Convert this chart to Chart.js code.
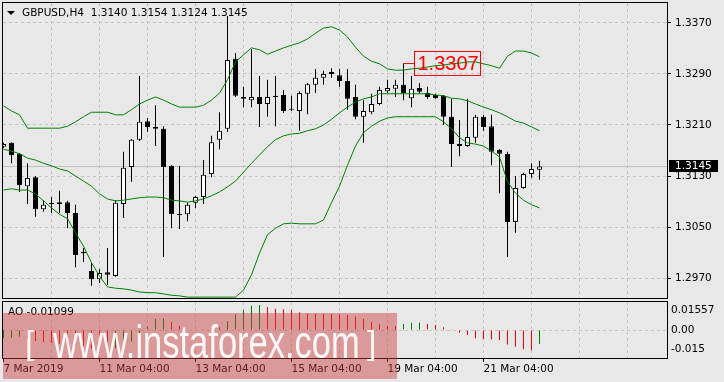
<!DOCTYPE html>
<html>
<head>
<meta charset="utf-8">
<script src="https://cdn.jsdelivr.net/npm/chart.js@4.4.1/dist/chart.umd.min.js"></script>
<style>
  html, body { margin: 0; padding: 0; background: #e8e8e8; }
  #wrap { position: relative; width: 724px; height: 382px; overflow: hidden; font-family: 'DejaVu Sans', sans-serif; color: #000; }
  #main { position: absolute; left: 0; top: 0; }
  #ao { position: absolute; left: 0; top: 300px; }
  .tri { position: absolute; left: 7px; top: 11px; width: 0; height: 0;
         border-left: 4px solid transparent; border-right: 4px solid transparent; border-top: 4px solid #000; }
  .title { position: absolute; left: 22px; top: 6px; font-size: 10.5px; white-space: pre; }
  .aolabel { position: absolute; left: 8px; top: 305px; font-size: 10.5px; white-space: pre; }
  .wm { position: absolute; left: 3px; top: 313px; width: 394px; height: 66px;
        background: rgba(205, 60, 60, 0.45); overflow: hidden; font-family: 'Liberation Sans', sans-serif; color: rgba(255,255,255,0.92); }
  .wm .txt { position: absolute; left: 50px; top: 6px; font-size: 46px; line-height: 46px; white-space: pre;
             transform: scaleX(0.75); transform-origin: left top; }
  .wm .br { position: absolute; font-size: 34px; line-height: 34px; font-weight: 300; }
</style>
</head>
<body>
<div id="wrap">
  <canvas id="main" width="724" height="300"></canvas>
  <canvas id="ao" width="724" height="82"></canvas>
  <div class="tri"></div>
  <div class="title" id="title"></div>
  <div class="aolabel" id="aolabel"></div>
  <div class="wm">
    <span class="br" style="left:22px; top:12px;">[</span>
    <span class="txt">www.instaforex.com</span>
    <span class="br" style="left:364px; top:12px;">]</span>
  </div>
</div>
<script>
// GBPUSD H4, 7 Mar 04:00 .. 22 Mar 08:00
const symbol = 'GBPUSD,H4';
const opens = [1.3176,1.3182,1.3165,1.3114,1.3128,1.3078,1.3088,1.3089,1.3089,1.3072,
  1.3011,1.2981,1.2968,1.2979,1.2973,1.3086,1.3144,1.3187,1.3216,1.3207,
  1.3204,1.3146,1.3070,1.3070,1.3088,1.3097,1.3133,1.3187,1.3204,1.3314,
  1.3254,1.3249,1.3254,1.3243,1.3256,1.3257,1.3235,1.3232,1.3259,1.3273,
  1.3284,1.3293,1.3288,1.3279,1.3254,1.3223,1.3230,1.3243,1.3263,1.3267,
  1.3273,1.3252,1.3268,1.3260,1.3257,1.3256,1.3223,1.3180,1.3177,1.3190,
  1.3223,1.3208,1.3171,1.3165,1.3058,1.3111,1.3133,1.3140];
const highs = [1.3182,1.3183,1.3166,1.3150,1.3130,1.3092,1.3097,1.3107,1.3091,1.3085,
  1.3017,1.2994,1.2984,1.3017,1.3092,1.3168,1.3188,1.3287,1.3221,1.3241,
  1.3208,1.3147,1.3146,1.3089,1.3099,1.3155,1.3193,1.3230,1.3381,1.3323,
  1.3270,1.3329,1.3287,1.3281,1.3287,1.3265,1.3256,1.3263,1.3276,1.3298,
  1.3295,1.3299,1.3298,1.3298,1.3273,1.3249,1.3259,1.3270,1.3281,1.3281,
  1.3307,1.3287,1.3276,1.3270,1.3259,1.3257,1.3251,1.3218,1.3251,1.3226,
  1.3226,1.3226,1.3172,1.3168,1.3130,1.3135,1.3150,1.3154];
const lows = [1.3174,1.3150,1.3105,1.3086,1.3066,1.3074,1.3072,1.3072,1.3048,1.2987,
  1.2995,1.2958,1.2962,1.2959,1.2972,1.3064,1.3121,1.3185,1.3199,1.3177,
  1.3003,1.3048,1.3047,1.3059,1.3080,1.3086,1.3128,1.3172,1.3199,1.3254,
  1.3238,1.3238,1.3207,1.3223,1.3208,1.3229,1.3232,1.3201,1.3227,1.3260,
  1.3273,1.3284,1.3270,1.3234,1.3219,1.3182,1.3227,1.3241,1.3260,1.3254,
  1.3249,1.3238,1.3259,1.3251,1.3251,1.3210,1.3144,1.3161,1.3176,1.3182,
  1.3201,1.3147,1.3103,1.3003,1.3041,1.3110,1.3127,1.3124];
const closes = [1.3180,1.3163,1.3116,1.3127,1.3078,1.3085,1.3086,1.3086,1.3072,1.3006,
  1.3009,1.2968,1.2978,1.2975,1.3088,1.3143,1.3187,1.3215,1.3207,1.3204,
  1.3144,1.3070,1.3069,1.3085,1.3097,1.3132,1.3183,1.3201,1.3312,1.3256,
  1.3251,1.3254,1.3243,1.3254,1.3254,1.3232,1.3234,1.3260,1.3274,1.3284,
  1.3290,1.3290,1.3279,1.3251,1.3223,1.3232,1.3243,1.3265,1.3268,1.3273,
  1.3260,1.3267,1.3262,1.3254,1.3252,1.3223,1.3180,1.3177,1.3191,1.3223,
  1.3207,1.3168,1.3165,1.3058,1.3111,1.3133,1.3141,1.3145];

// Bollinger bands
const bandUpper = [1.3240,1.3232,1.3226,1.3205,1.3205,1.3205,1.3205,1.3205,1.3208,1.3215,
  1.3223,1.3230,1.3230,1.3230,1.3226,1.3226,1.3234,1.3243,1.3249,1.3254,
  1.3249,1.3243,1.3238,1.3238,1.3238,1.3241,1.3249,1.3260,1.3281,1.3309,
  1.3320,1.3331,1.3328,1.3321,1.3326,1.3331,1.3335,1.3339,1.3345,1.3354,
  1.3362,1.3364,1.3359,1.3348,1.3332,1.3318,1.3310,1.3306,1.3298,1.3296,
  1.3296,1.3298,1.3299,1.3301,1.3303,1.3304,1.3306,1.3307,1.3309,1.3309,
  1.3306,1.3303,1.3299,1.3318,1.3326,1.3326,1.3323,1.3317];
const bandMiddle = [1.3172,1.3169,1.3165,1.3158,1.3155,1.3150,1.3146,1.3141,1.3138,1.3130,
  1.3122,1.3114,1.3102,1.3094,1.3091,1.3092,1.3094,1.3096,1.3097,1.3097,
  1.3096,1.3092,1.3091,1.3089,1.3091,1.3094,1.3099,1.3105,1.3113,1.3122,
  1.3136,1.3150,1.3163,1.3176,1.3187,1.3193,1.3196,1.3197,1.3201,1.3204,
  1.3210,1.3219,1.3229,1.3238,1.3246,1.3251,1.3254,1.3259,1.3259,1.3259,
  1.3259,1.3259,1.3259,1.3259,1.3257,1.3256,1.3252,1.3251,1.3248,1.3243,
  1.3238,1.3234,1.3229,1.3223,1.3216,1.3213,1.3207,1.3201];
const bandLower = [1.3108,1.3110,1.3108,1.3108,1.3102,1.3091,1.3080,1.3070,1.3063,1.3041,
  1.3020,1.2994,1.2973,1.2956,1.2954,1.2953,1.2951,1.2948,1.2947,1.2947,
  1.2945,1.2943,1.2942,1.2940,1.2940,1.2940,1.2940,1.2940,1.2940,1.2940,
  1.2951,1.2975,1.3009,1.3038,1.3048,1.3055,1.3056,1.3055,1.3055,1.3055,
  1.3061,1.3088,1.3114,1.3147,1.3177,1.3198,1.3208,1.3216,1.3221,1.3223,
  1.3223,1.3223,1.3223,1.3223,1.3223,1.3215,1.3204,1.3190,1.3182,1.3180,
  1.3177,1.3169,1.3160,1.3121,1.3103,1.3092,1.3085,1.3080];

// Awesome Oscillator
const aoValues = [-0.0065,-0.0060,-0.0052,-0.0068,-0.0085,-0.0095,-0.0102,-0.0108,-0.0115,-0.0125,
  -0.0135,-0.0145,-0.0152,-0.0158,-0.0142,-0.0120,-0.0090,-0.0040,0.0026,0.0086,
  0.0090,0.0065,0.0031,0.0006,-0.0004,0.0002,0.0010,0.0021,0.0070,0.0122,
  0.0156,0.0189,0.0195,0.0180,0.0166,0.0162,0.0156,0.0138,0.0131,0.0129,
  0.0127,0.0124,0.0120,0.0116,0.0105,0.0086,0.0065,0.0044,0.0034,0.0031,
  0.0047,0.0057,0.0058,0.0047,0.0039,0.0021,0.0005,-0.0021,-0.0039,-0.0065,
  -0.0070,-0.0073,-0.0078,-0.0112,-0.0130,-0.0150,-0.0158,-0.01099];

const priceTicks = [1.2970, 1.3050, 1.3130, 1.3210, 1.3290, 1.3370];
const aoTicks = [-0.015, 0, 0.01557];
const aoTickText = ['-0.015', '0.00', '0.01557'];
const timeTickIndex = [0, 12, 24, 36, 48, 60];
const timeTickText = ['7 Mar 2019', '11 Mar 04:00', '13 Mar 04:00', '15 Mar 04:00', '19 Mar 04:00', '21 Mar 04:00'];
const markIndex = 50;   // the boxed 1.3307 high

const totalSlots = 83;
const last = closes.length - 1;
const gridColor = '#c4c4c4';
const bandColor = '#008000';

Chart.defaults.font.family = 'DejaVu Sans';
Chart.defaults.font.size = 10.5;
Chart.defaults.color = '#000';
Chart.defaults.animation = false;

document.getElementById('title').textContent = symbol + '  ' +
  [opens[last], highs[last], lows[last], closes[last]].map(v => v.toFixed(4)).join(' ');
document.getElementById('aolabel').textContent = 'AO ' + aoValues[last].toFixed(5);

const idx = closes.map((_, i) => i);
const gridTicks = [];
for (let i = 0; i < totalSlots; i += 6) gridTicks.push(i);

// no extra room for labels hanging past the plot edges
function noPad(s) {
  s.paddingTop = 0; s.paddingBottom = 0; s.paddingLeft = 0; s.paddingRight = 0;
}

function xAxis(showLabels) {
  return {
    type: 'linear', min: -0.0625, max: totalSlots - 0.0625, offset: false,
    afterBuildTicks: s => { s.ticks = gridTicks.map(v => ({ value: v })); },
    afterFit: s => { s.height = showLabels ? 24 : 0; noPad(s); },
    grid: {
      offset: false,
      color: c => (c.tick && c.tick.value === 0) ? 'rgba(0,0,0,0)' : gridColor,
      drawTicks: showLabels, tickLength: 4,
      tickColor: c => (c.tick && timeTickIndex.includes(c.tick.value)) ? '#000' : 'rgba(0,0,0,0)'
    },
    border: { display: false, dash: [3, 3] },
    ticks: {
      display: showLabels, autoSkip: false, maxRotation: 0, minRotation: 0, align: 'start', padding: 1,
      callback: v => { const k = timeTickIndex.indexOf(v); return k >= 0 ? timeTickText[k] : ''; }
    }
  };
}

const framePlugin = {
  id: 'frame',
  afterDraw(chart) {
    const { ctx, chartArea: a } = chart;
    ctx.save();
    ctx.strokeStyle = '#000';
    ctx.lineWidth = 1;
    ctx.strokeRect(a.left - 0.5, a.top - 0.5, a.right - a.left + 1, a.bottom - a.top + 1);
    ctx.restore();
  }
};

const pricePlugin = {
  id: 'price',
  beforeDatasetsDraw(chart) {
    const { ctx, chartArea: a, scales } = chart;
    const y = Math.round(scales.y.getPixelForValue(closes[last])) + 0.5;
    ctx.save();
    ctx.strokeStyle = '#c0c0c0';
    ctx.beginPath(); ctx.moveTo(a.left, y); ctx.lineTo(a.right, y); ctx.stroke();
    ctx.restore();
  },
  afterDraw(chart) {
    const { ctx, chartArea: a, scales } = chart;
    ctx.save();
    // last price tag
    const y = Math.round(scales.y.getPixelForValue(closes[last]));
    ctx.fillStyle = '#000';
    ctx.fillRect(a.right + 2, y - 6, 49, 12);
    ctx.fillStyle = '#fff';
    ctx.font = '10.5px "DejaVu Sans"';
    ctx.textBaseline = 'middle';
    ctx.fillText(closes[last].toFixed(4), a.right + 8, y + 0.5);
    // marked high
    const mx = scales.x.getPixelForValue(markIndex);
    const my = Math.round(scales.y.getPixelForValue(highs[markIndex])) + 0.5;
    const txt = highs[markIndex].toFixed(4);
    ctx.font = '20px "Liberation Sans"';
    const w = ctx.measureText(txt).width;
    ctx.strokeStyle = '#ff0000';
    ctx.lineWidth = 1;
    ctx.beginPath(); ctx.moveTo(mx, my); ctx.lineTo(mx + 11, my); ctx.stroke();
    const bx = Math.round(mx + 11) + 0.5;
    ctx.strokeRect(bx, my - 12, Math.round(w + 5), 24);
    ctx.fillStyle = '#ff0000';
    ctx.fillText(txt, bx + 3, my + 1);
    ctx.restore();
  }
};

const bandDs = (data) => ({
  type: 'line', data: idx.map(i => ({ x: i, y: data[i] })),
  borderColor: bandColor, borderWidth: 1, pointRadius: 0, tension: 0, order: 0
});

new Chart(document.getElementById('main'), {
  type: 'bar',
  data: {
    datasets: [
      bandDs(bandUpper), bandDs(bandMiddle), bandDs(bandLower),
      {
        data: idx.map(i => ({ x: i, y: [Math.min(opens[i], closes[i]), Math.max(opens[i], closes[i])] })),
        backgroundColor: idx.map(i => closes[i] >= opens[i] ? '#ffffff' : '#000000'),
        borderColor: '#000', borderWidth: 1, borderSkipped: false,
        barThickness: 5, minBarLength: 1, grouped: false, inflateAmount: 0, order: 1
      },
      {
        data: idx.map(i => ({ x: i, y: [lows[i], highs[i]] })),
        backgroundColor: '#000', borderWidth: 0,
        barThickness: 1, grouped: false, inflateAmount: 0, order: 2
      }
    ]
  },
  options: {
    responsive: false,
    layout: { padding: { left: 3, top: 3, right: 0, bottom: 2 } },
    plugins: { legend: { display: false }, tooltip: { enabled: false } },
    scales: {
      x: xAxis(false),
      y: {
        position: 'right', min: 1.293863, max: 1.340137, beginAtZero: false,
        afterBuildTicks: s => { s.ticks = priceTicks.map(v => ({ value: v })); },
        afterFit: s => { s.width = 57; noPad(s); },
        grid: { color: gridColor, tickLength: 4, tickColor: '#000' },
        border: { display: false, dash: [3, 3] },
        ticks: { autoSkip: false, padding: 4, callback: v => v.toFixed(4) }
      }
    }
  },
  plugins: [pricePlugin, framePlugin]
});

new Chart(document.getElementById('ao'), {
  type: 'bar',
  data: {
    datasets: [{
      data: idx.map(i => ({ x: i, y: aoValues[i] })),
      backgroundColor: aoValues.map((v, i) => (i === 0 || v > aoValues[i - 1]) ? '#008000' : '#ff0000'),
      borderWidth: 0, barThickness: 1, grouped: false, inflateAmount: 0
    }]
  },
  options: {
    responsive: false,
    layout: { padding: { left: 3, top: 2, right: 0, bottom: 0 } },
    plugins: { legend: { display: false }, tooltip: { enabled: false } },
    scales: {
      x: xAxis(true),
      y: {
        position: 'right', min: -0.0218, max: 0.0218, beginAtZero: false,
        afterBuildTicks: s => { s.ticks = aoTicks.map(v => ({ value: v })); },
        afterFit: s => { s.width = 57; noPad(s); },
        grid: { color: c => (c.tick && c.tick.value === 0) ? gridColor : 'rgba(0,0,0,0)', drawTicks: false },
        border: { display: false, dash: [3, 3] },
        ticks: { autoSkip: false, padding: 4, callback: v => aoTickText[aoTicks.indexOf(v)] }
      }
    }
  },
  plugins: [framePlugin]
});
</script>
</body>
</html>
